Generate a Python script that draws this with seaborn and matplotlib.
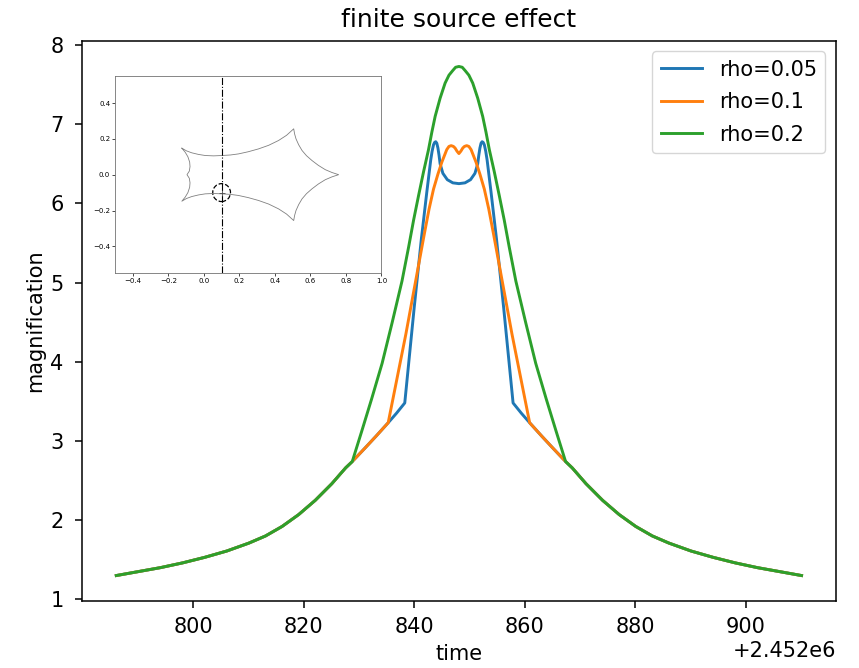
import numpy as np
import pandas as pd
import seaborn as sns
import matplotlib
matplotlib.use("Agg")
import matplotlib.pyplot as plt

# light curves (time in JD, magnification)
# shared point-source wings, left and right of the peak
wing_l_t = [2452786.1, 2452790.1, 2452794.1, 2452798.1, 2452802.1, 2452806.1, 2452810.1,
            2452813.1, 2452816.1, 2452819.1, 2452822.1, 2452825.1, 2452827.6, 2452828.8,
            2452831.1, 2452833.1, 2452835.3, 2452836.8, 2452838.3]
wing_l_m = [1.30, 1.35, 1.40, 1.46, 1.53, 1.61, 1.71,
            1.80, 1.92, 2.07, 2.25, 2.46, 2.66, 2.74,
            2.91, 3.06, 3.23, 3.35, 3.48]
wing_r_t = [2452857.9, 2452859.4, 2452860.9, 2452863.1, 2452865.1, 2452867.4, 2452868.6,
            2452871.1, 2452874.1, 2452877.1, 2452880.1, 2452883.1, 2452886.1, 2452890.1,
            2452894.1, 2452898.1, 2452902.1, 2452906.1, 2452910.1]
wing_r_m = [3.48, 3.35, 3.23, 3.06, 2.91, 2.74, 2.66,
            2.46, 2.25, 2.07, 1.92, 1.80, 1.71, 1.61,
            1.53, 1.46, 1.40, 1.35, 1.30]

# finite-source parts around the peak
core_005_t = [2452840.0, 2452841.3, 2452842.3, 2452843.0, 2452843.25, 2452843.5, 2452843.7,
              2452843.9, 2452844.1, 2452844.3, 2452844.5, 2452844.7, 2452845.2, 2452846.0,
              2452847.0, 2452848.1, 2452849.2, 2452850.2, 2452851.0, 2452851.5, 2452851.7,
              2452851.9, 2452852.1, 2452852.3, 2452852.5, 2452852.7, 2452852.95, 2452853.2,
              2452853.9, 2452854.9, 2452856.2]
core_005_m = [4.68, 5.55, 6.15, 6.55, 6.66, 6.74, 6.77,
              6.78, 6.76, 6.70, 6.61, 6.50, 6.38, 6.30,
              6.26, 6.25, 6.26, 6.30, 6.38, 6.50, 6.61,
              6.70, 6.76, 6.78, 6.77, 6.74, 6.66, 6.55,
              6.15, 5.55, 4.68]
core_01_t = [2452838.5, 2452841.8, 2452842.7, 2452843.5, 2452844.3, 2452845.0, 2452845.9,
             2452846.3, 2452846.7, 2452847.1, 2452847.4, 2452847.75, 2452848.1, 2452848.45,
             2452848.8, 2452849.1, 2452849.5, 2452849.9, 2452850.3, 2452851.2, 2452851.9,
             2452852.7, 2452853.5, 2452854.4, 2452857.7]
core_01_m = [4.35, 5.60, 5.93, 6.18, 6.37, 6.52, 6.68,
             6.72, 6.73, 6.72, 6.70, 6.66, 6.63, 6.66,
             6.70, 6.72, 6.73, 6.72, 6.68, 6.52, 6.37,
             6.18, 5.93, 5.60, 4.35]
core_02_t = [2452830.5, 2452832.3, 2452834.2, 2452836.0, 2452837.8, 2452839.0, 2452839.9,
             2452840.8, 2452841.7, 2452842.6, 2452843.2, 2452843.8, 2452844.7, 2452845.6,
             2452846.3, 2452847.0, 2452847.5, 2452848.1, 2452848.7, 2452849.2, 2452849.9,
             2452850.6, 2452851.5, 2452852.4, 2452853.0, 2452853.6, 2452854.5, 2452855.4,
             2452856.3, 2452857.2, 2452858.4, 2452860.2, 2452862.0, 2452863.9, 2452865.7]
core_02_m = [3.12, 3.53, 3.98, 4.49, 5.02, 5.45, 5.79,
             6.10, 6.40, 6.68, 6.90, 7.10, 7.33, 7.52,
             7.62, 7.68, 7.72, 7.73, 7.72, 7.68, 7.62,
             7.52, 7.33, 7.10, 6.90, 6.68, 6.40, 6.10,
             5.79, 5.45, 5.02, 4.49, 3.98, 3.53, 3.12]

labels = ["rho=0.05", "rho=0.1", "rho=0.2"]
colors = ["#1f77b4", "#ff7f0e", "#2ca02c"]
kink_left = [2452838.3, 2452835.3, 2452828.8]
kink_right = [2452857.9, 2452860.9, 2452867.4]
cores = [(core_005_t, core_005_m), (core_01_t, core_01_m), (core_02_t, core_02_m)]

# caustic (closed curve) for the inset
caustic_x = [-0.124, -0.098, -0.068, -0.030, 0.008, 0.055, 0.102, 0.150, 0.195, 0.250,
             0.308, 0.365, 0.421, 0.466, 0.506,
             0.511, 0.519, 0.534, 0.553, 0.578, 0.609, 0.645, 0.684, 0.722, 0.759,
             0.722, 0.684, 0.645, 0.609, 0.578, 0.553, 0.534, 0.519, 0.511, 0.506,
             0.466, 0.421, 0.365, 0.308, 0.250, 0.195, 0.150, 0.102, 0.055, 0.008,
             -0.030, -0.068, -0.098, -0.124,
             -0.105, -0.09, -0.080, -0.078, -0.082, -0.095,
             -0.082, -0.078, -0.080, -0.09, -0.105, -0.124]
caustic_y = [0.148, 0.133, 0.122, 0.113, 0.107, 0.105, 0.107, 0.110, 0.116, 0.128,
             0.144, 0.164, 0.191, 0.220, 0.256,
             0.228, 0.200, 0.167, 0.135, 0.106, 0.079, 0.052, 0.028, 0.012, 0.0,
             -0.012, -0.028, -0.052, -0.079, -0.106, -0.135, -0.167, -0.200, -0.228, -0.256,
             -0.220, -0.191, -0.164, -0.144, -0.128, -0.116, -0.110, -0.107, -0.105, -0.107,
             -0.113, -0.122, -0.133, -0.148,
             -0.125, -0.10, -0.07, -0.045, -0.02, 0.0,
             0.02, 0.045, 0.07, 0.10, 0.125, 0.148]
traj_x = [0.1, 0.1]
traj_y = [-0.55, 0.55]
src_x, src_y, src_r = 0.1, -0.1, 0.05
x_ticks = [2452800, 2452820, 2452840, 2452860, 2452880, 2452900]

plt.rcParams["font.size"] = 15
plt.rcParams["axes.linewidth"] = 1.1
plt.rcParams["xtick.major.width"] = 1.1
plt.rcParams["ytick.major.width"] = 1.1
plt.rcParams["xtick.major.size"] = 4.8
plt.rcParams["ytick.major.size"] = 4.8
plt.rcParams["xtick.major.pad"] = 6.5
plt.rcParams["ytick.major.pad"] = 8.5

fig = plt.figure(figsize=(8.59, 6.68), dpi=100)
ax = fig.add_axes([0.0955, 0.1003, 0.8775, 0.8383])

for (ct, cm), kl, kr, lab, c in zip(cores, kink_left, kink_right, labels, colors):
    lt = [t for t in wing_l_t if t <= kl]
    lm = [m for t, m in zip(wing_l_t, wing_l_m) if t <= kl]
    rt = [t for t in wing_r_t if t >= kr]
    rm = [m for t, m in zip(wing_r_t, wing_r_m) if t >= kr]
    df = pd.DataFrame({"time": lt + ct + rt, "mag": lm + cm + rm})
    sns.lineplot(data=df, x="time", y="mag", color=c, label=lab, lw=2.1,
                 sort=False, estimator=None, ax=ax)

ax.set_title("finite source effect", fontsize=18, pad=10)
ax.set_xlabel("time", labelpad=5)
ax.set_ylabel("magnification")
ax.set_xticks(x_ticks)
ax.set_yticks([1, 2, 3, 4, 5, 6, 7, 8])
ax.legend(loc="upper right", labelspacing=0.6)

# inset with caustic and source trajectory
ins = fig.add_axes([0.134, 0.591, 0.310, 0.295])
cdf = pd.DataFrame({"x": caustic_x, "y": caustic_y})
sns.lineplot(data=cdf, x="x", y="y", color="0.5", lw=0.6, sort=False,
             estimator=None, ax=ins)
ins.plot(traj_x, traj_y, color="k", lw=0.8, ls="-.")
circ = plt.Circle((src_x, src_y), src_r, fill=False, ls="--", lw=0.9, color="k")
ins.add_patch(circ)
ins.plot([src_x], [src_y], marker="+", ms=5, color="0.3", mew=0.6)
ins.set_xlim(-0.5, 1.0)
ins.set_ylim(-0.55, 0.55)
ins.set_xticks([-0.4, -0.2, 0.0, 0.2, 0.4, 0.6, 0.8, 1.0])
ins.set_yticks([-0.4, -0.2, 0.0, 0.2, 0.4])
ins.set_xlabel("")
ins.set_ylabel("")
ins.tick_params(labelsize=5, length=2, width=0.5, pad=1.5)
for s in ins.spines.values():
    s.set_linewidth(0.6)
    s.set_color("0.45")

fig.savefig("out.png", dpi=100)
